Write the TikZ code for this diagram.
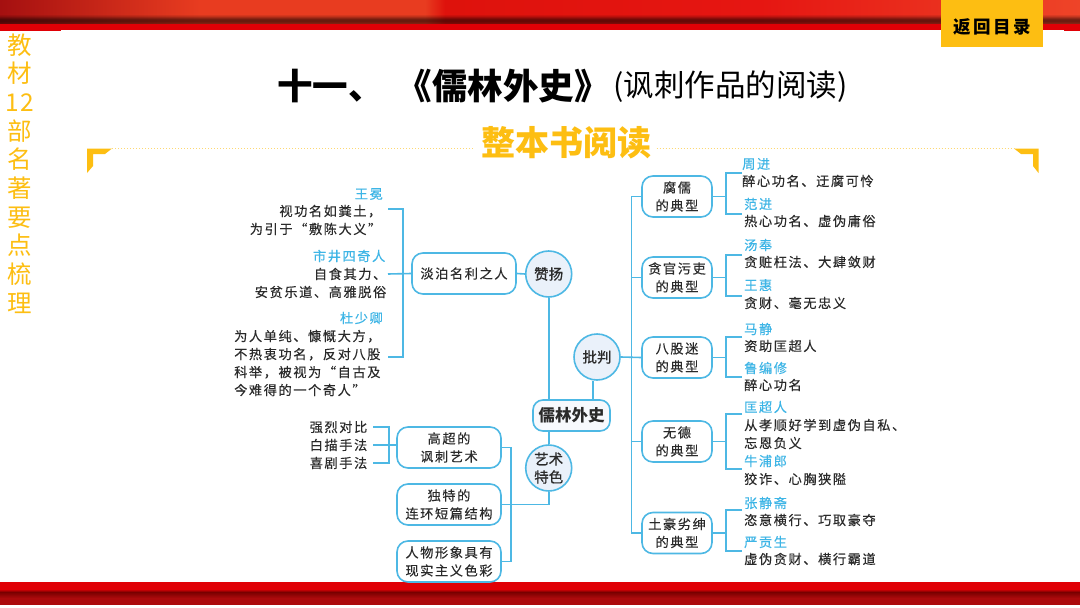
\documentclass[tikz,border=0pt]{standalone}
\usepackage{fontspec}
\setmainfont{Noto Sans CJK SC}
\newfontfamily\spaced[LetterSpace=12,FakeBold=0.3]{Noto Sans CJK SC}
\newfontfamily\spacedw[LetterSpace=14]{Noto Sans CJK SC}
\newfontfamily\medium[FakeBold=0.8]{Noto Sans CJK SC}
\definecolor{lk}{HTML}{4DB8E4}
\definecolor{nm}{HTML}{3DB5E6}
\definecolor{tx}{HTML}{2A2A2A}
\definecolor{gold}{HTML}{FDBE12}
\definecolor{circ}{HTML}{EAF1FA}
\definecolor{rA}{RGB}{165,16,16}
\definecolor{rB}{RGB}{232,60,32}
\definecolor{rC}{RGB}{222,18,12}
\definecolor{rD}{RGB}{230,22,18}
\definecolor{rE}{RGB}{238,68,40}
\definecolor{rF}{RGB}{224,0,6}
\definecolor{rG}{RGB}{120,0,0}
\definecolor{rH}{RGB}{172,10,12}
\tikzset{
 link/.style={draw=lk,line width=1.6pt,line join=miter},
 body/.style={inner sep=0pt,text=tx,font=\spaced\fontsize{13.2}{18}\selectfont},
 bl/.style={body,anchor=west,align=left},
 br/.style={body,anchor=east,align=right},
 namel/.style={bl,text=nm},
 namer/.style={br,text=nm},
 rbox/.style={draw=lk,line width=1.6pt,fill=white,rounded corners=11pt,inner sep=0pt,minimum height=41pt,align=center,text=tx,font=\spaced\fontsize{13.2}{18}\selectfont},
 rboxa/.style={rbox,minimum width=70pt},
 rboxb/.style={rbox,minimum width=104pt},
 ball/.style={circle,draw=lk,line width=1.6pt,fill=circ,minimum size=46pt,inner sep=0pt,align=center,text=tx,font=\medium\fontsize{14.5}{18}\selectfont},
 corner/.style={fill=gold,draw=none},
 dots/.style={draw=gold!60,line width=1pt,dotted},
}
\begin{document}
\begin{tikzpicture}[x=1pt,y=-1pt]
\useasboundingbox (0,0) rectangle (1080,608);
\fill[white] (0,0) rectangle (1080,608);
% top band
\shade[left color=rA,right color=rB] (0,0) rectangle (200,24);
\fill[rB] (200,0) rectangle (430,24);
\shade[left color=rB,right color=rC] (425,0) rectangle (445,24);
\shade[left color=rC,right color=rD] (445,0) rectangle (760,24);
\shade[left color=rD,right color=rE] (760,0) rectangle (1080,24);
\foreach \i/\o in {15/.08,16/.16,17/.28,18/.4,19/.5,20/.55,21/.55,22/.5,23/.45}
  \fill[black,opacity=\o] (0,\i) rectangle (1080,\i+1);
\fill[rF] (0,24) rectangle (1080,29.5);
\fill[rF] (0,29) rectangle (61,30.5);
\fill[rF] (1064,29) rectangle (1080,31);
% bottom band
\fill[rF] (0,582) rectangle (1080,589);
\shade[top color=rF,bottom color=rG] (0,589) rectangle (1080,592);
\shade[top color=rG,bottom color=rH] (0,592) rectangle (1080,598);
\fill[rH] (0,598) rectangle (1080,605);
% return button
\node[fill=gold,minimum width=102pt,minimum height=47pt,inner sep=0pt,text=tx] (back) at (992,23.5) {};
\node[inner sep=0pt,text=black,font=\spacedw\bfseries\fontsize{17.5}{20}\selectfont] (backt) at (992.5,27) {返回目录};
% side text
\node[inner sep=0pt,align=center,text=gold,font=\fontsize{24.5}{28.7}\selectfont] (side) at (20,173.5) {教\\材\\1\kern2pt 2\\部\\名\\著\\要\\点\\梳\\理};
% title
\node[inner sep=0pt,anchor=west,text=black,font=\bfseries\fontsize{35.5}{40}\selectfont] (title) at (277,86) {十一、\kern13pt《儒林外史》};
\node[inner sep=0pt,anchor=west,text=black,font=\fontsize{30.5}{34}\selectfont] (subt) at (613,87) {(讽刺作品的阅读)};
\node[inner sep=0pt,text=gold,font=\bfseries\fontsize{34}{38}\selectfont] (whole) at (566.5,143) {整本书阅读};
% corners
\fill[corner] (87,148.5) -- (112,148.5) -- (105,154) -- (93,154) -- (93,166) -- (87,173) -- cycle;
\fill[corner] (1038.5,148.5) -- (1014,148.5) -- (1021,154) -- (1033,154) -- (1033,166) -- (1038.5,173) -- cycle;
\coordinate (dl1) at (112,148.5); \coordinate (dl2) at (1014,148.5);
\draw[dots] (dl1) -- ([xshift=-8pt]whole.west |- dl1);
\draw[dots] ([xshift=5pt]whole.east |- dl2) -- (dl2);

% central nodes
\node[rbox,minimum width=77pt,minimum height=31pt,rounded corners=10pt,fill=circ!40,font=\bfseries\fontsize{16.5}{18}\selectfont] (root) at (571.5,415.5) {儒林外史};
\node[ball] (zan) at (548.7,274) {赞扬};
\node[ball] (pi) at (597,357) {批判};
\node[ball] (yi) at (548.7,468) {艺术\\特色};
% left upper
\node[rboxb] (dan) at (464,273.5) {淡泊名利之人};
\coordinate (bus) at (403,274);
\coordinate (wa) at (388,209); \coordinate (wm) at (388,274); \coordinate (wb) at (388,357);
\draw[link] (wa) -- (wa -| bus) -- (wb -| bus) -- (wb);
\draw[link] (wm) -- (dan.west);
\draw[link] (dan.east) -- (zan.west);
\draw[link] (zan.south) -- (zan.south |- root.north);
\coordinate (pr) at (593,400);
\draw[link] (pi.south -| pr) -- (pr);
\node[namer] (n1) at (383,194) {王冕};
\node[br] (t1) at (381.5,220) {视功名如粪土，\\为引于“敷陈大义”};
\node[namer] (n2) at (385.5,256) {市井四奇人};
\node[br] (t2) at (386.5,283) {自食其力、\\安贫乐道、高雅脱俗};
\node[namer] (n3) at (383,318) {杜少卿};
\node[bl] (t3) at (234,363) {为人单纯、慷慨大方，\\不热衷功名，反对八股\\科举，被视为“自古及\\今难得的一个奇人”};
% left lower
\node[rboxb] (b1) at (449,447.5) {高超的\\讽刺艺术};
\node[rboxb] (b2) at (449,504.5) {独特的\\连环短篇结构};
\node[rboxb] (b3) at (449,561.5) {人物形象具有\\现实主义色彩};
\draw[link] (yi.north) -- (yi.north |- root.south);
\coordinate (bus2) at (511,505);
\draw[link] (b1.east) -- (b1.east -| bus2) -- (b3.east -| bus2) -- (b3.east);
\draw[link] (b2.east) -- (yi.south |- b2.east) -- (yi.south);
\coordinate (bus3) at (389,445);
\coordinate (ca) at (373,427); \coordinate (cm) at (373,445); \coordinate (cb) at (373,463);
\draw[link] (ca) -- (ca -| bus3) -- (cb -| bus3) -- (cb);
\draw[link] (cm) -- (cm -| b1.west);
\node[br] (t4) at (367.5,445) {强烈对比\\白描手法\\喜剧手法};
% right spine
\node[rboxa] (r1) at (677,196.5) {腐儒\\的典型};
\node[rboxa] (r2) at (677,277.5) {贪官污吏\\的典型};
\node[rboxa] (r3) at (677,357.5) {八股迷\\的典型};
\node[rboxa] (r4) at (677,441.5) {无德\\的典型};
\node[rboxa] (r5) at (677,533) {土豪劣绅\\的典型};
\coordinate (sp) at (631.5,357);
\draw[link] (r1.west) -- (r1.west -| sp) -- (r5.west -| sp) -- (r5.west);
\draw[link] (r2.west) -- (r2.west -| sp);
\draw[link] (r3.west) -- (pi.east);
\draw[link] (r4.west) -- (r4.west -| sp);
\coordinate (q) at (726,300);
% right brackets
\coordinate (a1) at (742,173); \coordinate (a2) at (742,214);
\coordinate (a3) at (742,255); \coordinate (a4) at (742,296);
\coordinate (a5) at (742,337); \coordinate (a6) at (742,377);
\coordinate (a7) at (742,414); \coordinate (a8) at (742,469);
\coordinate (a9) at (742,510); \coordinate (a10) at (742,551);
\foreach \u/\v/\b in {a1/a2/r1,a3/a4/r2,a5/a6/r3,a7/a8/r4,a9/a10/r5}{
  \draw[link] (\u) -- (\u -| q) -- (\v -| q) -- (\v);
  \draw[link] (\b.east) -- (\b.east -| q);
}
% right texts
\node[namel] (p1) at (742,164) {周进};
\node[bl] (d1) at (742,181) {醉心功名、迂腐可怜};
\node[namel] (p2) at (744,204) {范进};
\node[bl] (d2) at (744,221) {热心功名、虚伪庸俗};
\node[namel] (p3) at (744,245) {汤奉};
\node[bl] (d3) at (744,262) {贪赃枉法、大肆敛财};
\node[namel] (p4) at (744,285) {王惠};
\node[bl] (d4) at (744,303) {贪财、毫无忠义};
\node[namel] (p5) at (744,329) {马静};
\node[bl] (d5) at (744,346) {资助匡超人};
\node[namel] (p6) at (744,368) {鲁编修};
\node[bl] (d6) at (744,385) {醉心功名};
\node[namel] (p7) at (744,407) {匡超人};
\node[bl] (d7) at (744,434) {从孝顺好学到虚伪自私、\\忘恩负义};
\node[namel] (p8) at (744,461) {牛浦郎};
\node[bl] (d8) at (744,479) {狡诈、心胸狭隘};
\node[namel] (p9) at (744,503) {张静斋};
\node[bl] (d9) at (744,520) {恣意横行、巧取豪夺};
\node[namel] (p10) at (744,542) {严贡生};
\node[bl] (d10) at (744,559) {虚伪贪财、横行霸道};
\end{tikzpicture}
\end{document}
